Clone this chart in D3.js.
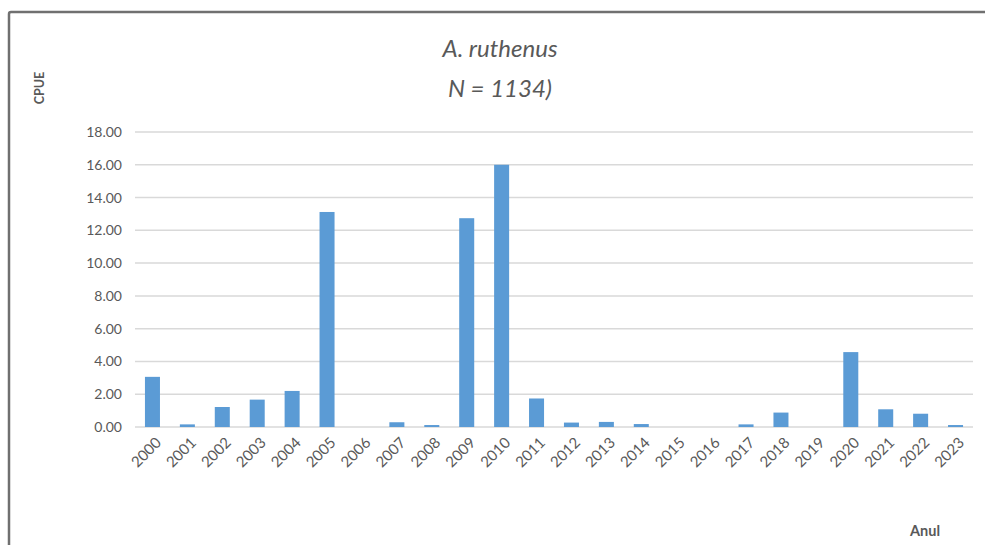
<!DOCTYPE html>
<html>
<head>
<meta charset="utf-8">
<script src="https://cdn.jsdelivr.net/npm/d3@7"></script>
<style>
  body { margin: 0; background: #fff; }
  text { font-family: Lato, "Open Sans", sans-serif; fill: #595959; }
</style>
</head>
<body>
<script>
// years and CPUE values
var years = ["2000","2001","2002","2003","2004","2005","2006","2007","2008","2009","2010","2011",
             "2012","2013","2014","2015","2016","2017","2018","2019","2020","2021","2022","2023"];
var cpue = [3.06, 0.16, 1.22, 1.67, 2.2, 13.12, 0, 0.29, 0.12, 12.74, 16.0, 1.74,
            0.27, 0.31, 0.18, 0, 0, 0.16, 0.88, 0, 4.57, 1.08, 0.81, 0.12];
var yTicks = [0, 2, 4, 6, 8, 10, 12, 14, 16, 18];

var w = 985, h = 545;
var plotLeft = 135, plotRight = 973, plotTop = 132, plotBottom = 427;

var svg = d3.select("body").append("svg")
    .attr("width", w)
    .attr("height", h);

// frame (cropped chart border)
svg.append("path")
   .attr("d", "M9,545 L9,14 Q9,12 11,12 L985,12")
   .attr("fill", "none")
   .attr("stroke", "#707070")
   .attr("stroke-width", 2.5);

var x = d3.scaleBand().domain(years).range([plotLeft, plotRight]).paddingInner(0.57).paddingOuter(0.285);
var y = d3.scaleLinear().domain([0, 18]).range([plotBottom, plotTop]);

// gridlines
svg.append("g")
   .selectAll("line")
   .data(yTicks)
   .enter()
   .append("line")
   .attr("x1", plotLeft)
   .attr("x2", plotRight)
   .attr("y1", function(d) { return y(d); })
   .attr("y2", function(d) { return y(d); })
   .attr("stroke", "#d9d9d9")
   .attr("stroke-width", 1.5);

// y axis labels
var yAxis = d3.axisLeft(y).tickValues(yTicks).tickSize(0).tickPadding(13)
    .tickFormat(d3.format(".2f"));
var gy = svg.append("g").attr("transform", "translate(" + plotLeft + ",0)").call(yAxis);
gy.select(".domain").remove();
gy.selectAll("text").style("font-size", "14px").attr("fill", "#595959");

// bars
svg.selectAll("rect.bar")
   .data(cpue)
   .enter()
   .append("rect")
   .attr("class", "bar")
   .attr("x", function(d, i) { return x(years[i]); })
   .attr("y", function(d) { return y(d); })
   .attr("width", x.bandwidth())
   .attr("height", function(d) { return plotBottom - y(d); })
   .attr("fill", "#5b9bd5");

// x axis labels, rotated
var xAxis = d3.axisBottom(x).tickSize(0).tickPadding(0);
var gx = svg.append("g").attr("transform", "translate(0," + plotBottom + ")").call(xAxis);
gx.select(".domain").remove();
gx.selectAll("text")
  .style("font-size", "15px")
  .attr("fill", "#595959")
  .attr("text-anchor", "end")
  .attr("dy", "0.35em")
  .attr("y", 0)
  .attr("transform", "translate(6,13) rotate(-45)");

// title
svg.append("text")
   .attr("x", 500).attr("y", 57)
   .attr("text-anchor", "middle")
   .style("font-size", "24px").style("font-style", "italic")
   .text("A. ruthenus");
svg.append("text")
   .attr("x", 500).attr("y", 97)
   .attr("text-anchor", "middle")
   .style("font-size", "24px").style("font-style", "italic")
   .text("N = 1134)");

// axis titles
svg.append("text")
   .attr("transform", "translate(44,88) rotate(-90)")
   .attr("text-anchor", "middle")
   .style("font-size", "12.5px").style("font-weight", "bold")
   .text("CPUE");
svg.append("text")
   .attr("x", 925).attr("y", 536)
   .attr("text-anchor", "middle")
   .style("font-size", "14.5px").style("font-weight", "bold")
   .text("Anul");
</script>
</body>
</html>
